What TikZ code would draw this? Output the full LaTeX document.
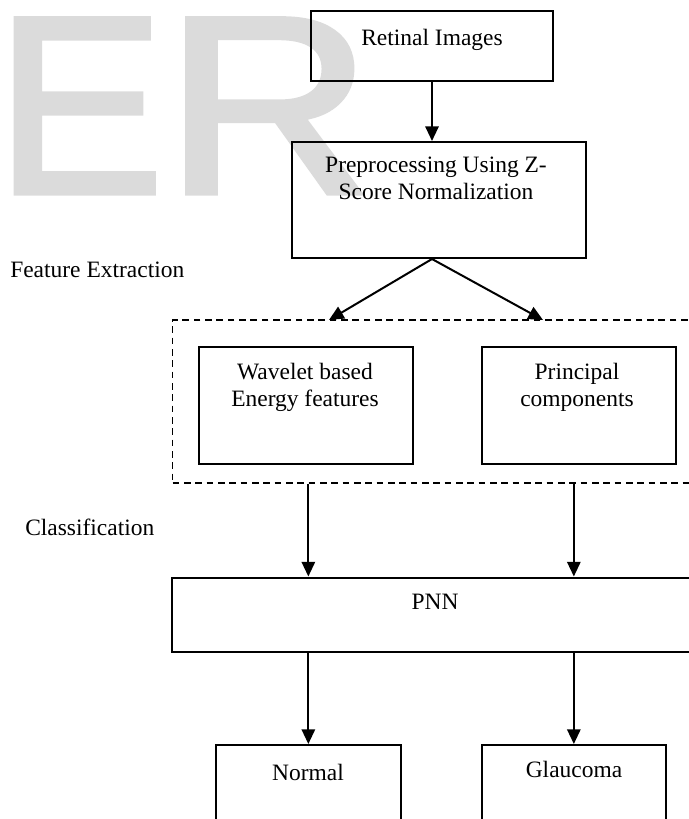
\documentclass[tikz,border=0pt]{standalone}
\usepackage{fontspec}
\setmainfont{Liberation Serif}
\newfontfamily\wmfont[FakeBold=2]{Liberation Sans}
\usetikzlibrary{arrows.meta, fit}
\tikzset{>={Triangle[length=11pt, width=10pt]}}
\tikzset{
    box/.style={draw, line width=1.5pt, inner sep=0pt},
    group/.style={draw, line width=1.1pt, dash pattern=on 5pt off 3.5pt, inner sep=0pt},
    txt/.style={anchor=base, align=center, inner sep=0pt},
    side/.style={anchor=base west, inner sep=0pt},
    flow/.style={->, line width=1.5pt},
}

\begin{document}
\begin{tikzpicture}[x=0.75pt, y=-0.75pt, font=\fontsize{17.6}{20.25}\selectfont]
    \clip (0, 0) rectangle (689, 819);
    % watermark
    \node[side, text=black!14, font=\wmfont\fontsize{190}{190}\selectfont] (wm) at (-5, 193) {E\scalebox{1.14}[1]{R}};
    % boxes
    \node[box, fit={(311, 11) (553, 81)}] (ret) {};
    \node[box, fit={(292, 142) (586, 258)}] (pre) {};
    \node[group, fit={(172.7, 320) (700, 483)}] (feat) {};
    \node[box, fit={(198.6, 347) (413, 464)}] (wave) {};
    \node[box, fit={(482, 347) (675.7, 464)}] (prin) {};
    \node[box, fit={(172, 577.5) (700, 652)}] (pnn) {};
    \node[box, fit={(216, 745) (400.7, 830)}] (nrm) {};
    \node[box, fit={(481.7, 745) (666, 830)}] (gla) {};
    % texts (two-line nodes sit on their last baseline)
    \node[txt] (retT) at (432, 45) {Retinal Images};
    \node[txt] (preT) at (436, 199) {Preprocessing Using Z-\\Score Normalization};
    \node[txt] (waveT) at (305, 406) {Wavelet based\\Energy features};
    \node[txt] (prinT) at (577, 406) {Principal\\components};
    \node[txt] (pnnT) at (435, 609) {PNN};
    \node[txt] (nrmT) at (308, 780) {Normal};
    \node[txt] (glaT) at (574, 777) {Glaucoma};
    \node[side] (featT) at (10, 277) {Feature Extraction};
    \node[side] (clsT) at (25, 535) {Classification};
    % connectors
    \coordinate (fork) at (pre.south -| ret.south);
    \coordinate (inA) at (329, 320);
    \coordinate (inB) at (543, 320);
    \draw[flow] (ret.south) -- (ret.south |- pre.north);
    \draw[flow] (fork) -- (inA);
    \draw[flow] (fork) -- (inB);
    \draw[flow] (nrm.north |- feat.south) -- (nrm.north |- pnn.north);
    \draw[flow] (gla.north |- feat.south) -- (gla.north |- pnn.north);
    \draw[flow] (nrm.north |- pnn.south) -- (nrm.north);
    \draw[flow] (gla.north |- pnn.south) -- (gla.north);
\end{tikzpicture}
\end{document}
